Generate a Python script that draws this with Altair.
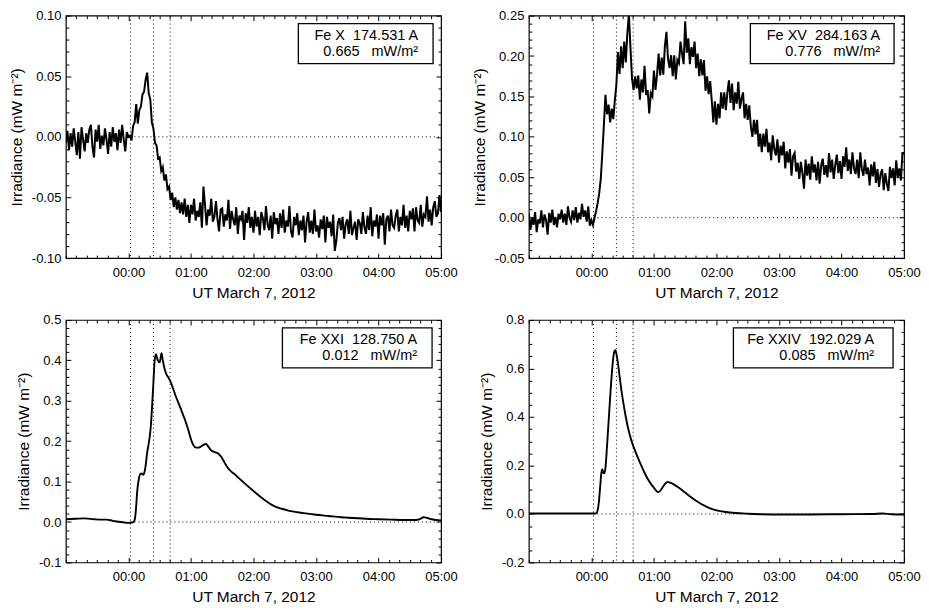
import altair as alt
import numpy as np
import pandas as pd

FONT = "Liberation Sans"
X_TITLE = "UT March 7, 2012"
Y_TITLE = "Irradiance (mW m\u207b\u00b2)"

# time axis: hours relative to 00:00 UT, March 7 2012
x_domain = [-1.0, 5.0]
x_major_hours = [0, 1, 2, 3, 4, 5]
flare_marks_h = [0.033, 0.40, 0.667]      # 00:02, 00:24, 00:40 UT
sample_step_h = 0.025                      # 1.5-minute samples for the noisy lines

# Fe X 174.531 A, irradiance in 1e-3 mW m^-2
fe10_milli = [
    -5, 5, -11, 3, -8, 7, -4, -15, 4, -18, 8, -2, -12, 3, -5, 6, 10, -8, -17, 6,
    -4, 10, -10, 1, -7, 7, -2, -14, 4, -8, 8, -4, 3, -11, 6, -5, 10, -2, -12, 4, 0,
    1, -3, 9, 12, 27, 11, 22, 25, 35, 37, 47, 53, 36, 31, 12, 7, -5, -7, -18, -17,
    -28, -25, -36, -31, -43, -41, -52, -46, -58, -50, -60, -52, -63, -54, -64,
    -51, -66, -56, -71, -56, -64, -51, -69, -61, -66,
    -54, -75, -41, -56, -73, -60, -65, -51, -70, -66,
    -53, -68, -78, -60, -59, -74, -64, -69, -52, -76,
    -61, -68, -73, -58, -80, -65, -68, -61, -85, -63,
    -71, -58, -75, -66, -79, -61, -74, -66, -81, -62,
    -67, -77, -57, -72, -77, -65, -84, -62, -72, -67,
    -80, -63, -75, -60, -79, -69, -74, -57, -78, -83,
    -66, -73, -63, -81, -69, -77, -65, -87, -70, -62,
    -79, -69, -80, -60, -78, -73, -83, -68, -76, -65,
    -87, -66, -75, -70, -82, -64, -94, -86, -71, -67,
    -77, -66, -84, -72, -68, -80, -61, -81, -75, -70,
    -85, -68, -71, -80, -62, -75, -80, -65, -77, -58,
    -82, -69, -74, -64, -84, -65, -73, -63, -89, -68,
    -65, -78, -60, -73, -75, -65, -60, -78, -66, -73,
    -56, -75, -65, -78, -61, -68, -59, -78, -58, -69,
    -71, -56, -74, -64, -66, -49, -70, -60, -73, -58,
    -53, -66, -63, -48, -62,
]

# Fe XV 284.163 A, irradiance in 1e-3 mW m^-2
fe15_milli = [
    5, -15, 0, -9, 7, -18, -2, -7, 9, -12, 4, -3, -21, 6, -6, 10, -9, 1, -12, 5,
    -2, 10, -6, 5, -9, 14, 0, -5, 9, -3, 13, -6, 6, -2, 17, 1, 9, -5, 14, -10, -3,
    -9, 0, 8, 18, 30, 48, 80, 115, 152, 128, 140, 118, 135, 122, 145, 165, 205, 178,
    212, 185, 218, 192, 228, 252, 210, 172, 158, 175, 160,
    176, 146, 171, 155, 188, 152, 158, 129, 154, 150,
    182, 158, 177, 203, 176, 198, 177, 212, 230, 197,
    185, 201, 175, 201, 171, 195, 191, 218, 203, 190,
    243, 204, 222, 190, 211, 199, 218, 185, 203, 175,
    196, 176, 195, 157, 175, 153, 169, 145, 118, 144,
    115, 141, 123, 155, 135, 155, 133, 155, 170, 142,
    166, 133, 155, 141, 168, 135, 147, 155, 123, 141,
    121, 139, 113, 100, 121, 103, 121, 88, 104, 81,
    104, 88, 110, 81, 93, 71, 102, 85, 77, 97,
    68, 89, 77, 94, 61, 82, 68, 85, 52, 76,
    80, 57, 68, 48, 69, 55, 36, 72, 52, 67,
    47, 76, 56, 66, 46, 69, 42, 65, 73, 53,
    65, 50, 80, 56, 72, 48, 65, 78, 55, 70,
    48, 76, 63, 87, 58, 72, 54, 81, 61, 54,
    72, 49, 81, 60, 52, 72, 54, 62, 40, 66,
    51, 69, 43, 60, 38, 54, 60, 34, 55, 42,
    33, 63, 49, 61, 40, 71, 49, 61, 46, 80, 80,
]

# Fe XXI 128.750 A
fe21_t = [-1.0, -0.85, -0.7, -0.55, -0.45, -0.35, -0.25, -0.12, 0.0, 0.08,
          0.10, 0.12, 0.14, 0.165, 0.19, 0.21, 0.235, 0.26, 0.28, 0.30,
          0.32, 0.34, 0.36, 0.38, 0.40, 0.42, 0.44, 0.47, 0.50, 0.53,
          0.55, 0.58, 0.61, 0.65, 0.68, 0.72, 0.76, 0.80, 0.85, 0.90,
          0.95, 1.00, 1.04, 1.08, 1.12, 1.16, 1.20, 1.24, 1.28, 1.32,
          1.36, 1.40, 1.44, 1.48, 1.52, 1.56, 1.60, 1.65, 1.70, 1.75,
          1.80, 1.90, 2.00, 2.10, 2.20, 2.30, 2.40, 2.50, 2.60, 2.80,
          3.00, 3.20, 3.40, 3.60, 3.80, 4.00, 4.20, 4.40, 4.60, 4.66,
          4.72, 4.78, 4.85, 5.00]
fe21_v = [0.007, 0.008, 0.009, 0.007, 0.006, 0.006, 0.003, 0.000, -0.002, 0.000,
          0.005, 0.030, 0.075, 0.105, 0.119, 0.120, 0.117, 0.125, 0.145, 0.172,
          0.190, 0.210, 0.240, 0.290, 0.345, 0.400, 0.415, 0.400, 0.395, 0.418,
          0.400, 0.378, 0.365, 0.355, 0.345, 0.328, 0.310, 0.295, 0.275, 0.255,
          0.232, 0.205, 0.190, 0.184, 0.184, 0.187, 0.191, 0.193, 0.186, 0.178,
          0.174, 0.172, 0.169, 0.162, 0.152, 0.141, 0.132, 0.124, 0.118, 0.111,
          0.104, 0.090, 0.077, 0.064, 0.052, 0.042, 0.035, 0.031, 0.027, 0.022,
          0.018, 0.015, 0.012, 0.010, 0.008, 0.007, 0.006, 0.005, 0.005, 0.007,
          0.012, 0.010, 0.007, 0.004]

# Fe XXIV 192.029 A
fe24_t = [-1.0, -0.5, 0.0, 0.08, 0.10, 0.12, 0.14, 0.16, 0.175, 0.19,
          0.205, 0.225, 0.25, 0.27, 0.29, 0.31, 0.33, 0.35, 0.37, 0.385,
          0.40, 0.42, 0.45, 0.48, 0.51, 0.55, 0.60, 0.65, 0.70, 0.75,
          0.80, 0.85, 0.90, 0.95, 1.00, 1.04, 1.07, 1.10, 1.14, 1.18,
          1.22, 1.27, 1.33, 1.40, 1.50, 1.60, 1.70, 1.80, 1.90, 2.00,
          2.15, 2.30, 2.50, 2.70, 3.00, 3.50, 4.00, 4.50, 4.65, 4.80, 5.00]
fe24_v = [0.002, 0.002, 0.002, 0.003, 0.015, 0.050, 0.110, 0.170, 0.185, 0.170,
          0.168, 0.190, 0.280, 0.360, 0.440, 0.520, 0.590, 0.645, 0.672, 0.675,
          0.660, 0.630, 0.570, 0.510, 0.460, 0.400, 0.340, 0.295, 0.260, 0.228,
          0.198, 0.170, 0.145, 0.125, 0.108, 0.095, 0.090, 0.095, 0.110, 0.125,
          0.132, 0.128, 0.120, 0.108, 0.088, 0.068, 0.050, 0.035, 0.023, 0.015,
          0.008, 0.004, 0.001, -0.001, -0.002, -0.002, -0.001, 0.000, 0.002, -0.001,
          -0.002]

legend_line1 = ["Fe X\u00a0\u00a0174.531 A", "Fe XV\u00a0\u00a0284.163 A",
                "Fe XXI\u00a0\u00a0128.750 A", "Fe XXIV\u00a0\u00a0192.029 A"]
legend_line2 = ["0.665\u00a0\u00a0\u00a0mW/m\u00b2", "0.776\u00a0\u00a0\u00a0mW/m\u00b2",
                "0.012\u00a0\u00a0\u00a0mW/m\u00b2", "0.085\u00a0\u00a0\u00a0mW/m\u00b2"]

PW, PH = 376, 243


def sampled(milli):
    t = x_domain[0] + sample_step_h * np.arange(len(milli))
    return pd.DataFrame({"t": t, "v": np.array(milli) / 1000.0})


def minor_ticks(lo, hi, step, majors):
    n = int(round((hi - lo) / step))
    vals = [round(lo + k * step, 6) for k in range(n + 1)]
    return [v for v in vals if all(abs(v - m) > 1e-9 for m in majors)]


x_minor = minor_ticks(x_domain[0], x_domain[1], 1 / 6, x_major_hours)


def tick_axis(orient, values, size):
    return alt.Axis(orient=orient, values=values, tickSize=size, offset=-size,
                    labels=False, title=None, domain=False, grid=False,
                    ticks=True, tickColor="black", tickWidth=1, zindex=1)


def panel(df, ydom, ymajor, ystep, ydec, box, l1, l2, smooth):
    xs = alt.Scale(domain=x_domain, nice=False, zero=False)
    ys = alt.Scale(domain=ydom, nice=False, zero=False)
    yminor = minor_ticks(ydom[0], ydom[1], ystep, ymajor)
    yexpr = f"(datum.value < 0 ? '-' : '') + format(abs(datum.value), '.{ydec}f')"

    ev = alt.Chart(pd.DataFrame({"t": flare_marks_h})).mark_rule(
        color="black", strokeDash=[1, 3], strokeWidth=1
    ).encode(x=alt.X("t:Q", scale=xs, axis=tick_axis("bottom", x_major_hours, 5)))

    hz = alt.Chart(pd.DataFrame({"t0": [flare_marks_h[0]], "t1": [x_domain[1]], "v": [0.0]})).mark_rule(
        color="black", strokeDash=[1, 3], strokeWidth=1
    ).encode(
        x=alt.X("t0:Q", scale=xs, axis=tick_axis("bottom", x_minor, 3)),
        x2="t1:Q",
        y=alt.Y("v:Q", scale=ys, axis=tick_axis("left", ymajor, 5)),
    )

    ln = alt.Chart(df).mark_line(
        color="black", strokeWidth=1.9 if smooth else 2.0,
        interpolate="monotone" if smooth else "linear", clip=True
    ).encode(
        x=alt.X("t:Q", scale=xs, axis=alt.Axis(
            orient="bottom", values=x_major_hours, labelExpr="'0' + datum.value + ':00'",
            title=X_TITLE, tickSize=0, ticks=False, domain=False, grid=False,
            labelFlush=False, labelPadding=8, titlePadding=6)),
        y=alt.Y("v:Q", scale=ys, axis=alt.Axis(
            orient="left", values=ymajor, labelExpr=yexpr, title=Y_TITLE,
            tickSize=0, ticks=False, domain=False, grid=False,
            labelPadding=5, titlePadding=7)),
    )

    corners = pd.DataFrame({"t": x_domain, "v": ydom})
    h1 = alt.Chart(corners).mark_point(opacity=0, size=1).encode(
        x=alt.X("t:Q", scale=xs, axis=tick_axis("top", x_major_hours, 5)),
        y=alt.Y("v:Q", scale=ys, axis=tick_axis("right", ymajor, 5)),
    )
    h2 = alt.Chart(corners).mark_point(opacity=0, size=1).encode(
        x=alt.X("t:Q", scale=xs, axis=tick_axis("top", x_minor, 3)),
        y=alt.Y("v:Q", scale=ys, axis=tick_axis("right", yminor, 3)),
    )
    h3 = alt.Chart(corners).mark_point(opacity=0, size=1).encode(
        x=alt.X("t:Q", scale=xs, axis=None),
        y=alt.Y("v:Q", scale=ys, axis=tick_axis("left", yminor, 3)),
    )

    bx = alt.Chart(pd.DataFrame({"k": [0]})).mark_rect(
        filled=False, color="black", stroke="black", strokeWidth=1.3
    ).encode(x=alt.value(box[0]), x2=alt.value(box[1]), y=alt.value(8), y2=alt.value(48))

    t1 = alt.Chart(pd.DataFrame({"s": [l1]})).mark_text(
        align="right", baseline="alphabetic", fontSize=14.5, font=FONT, color="black"
    ).encode(x=alt.value(box[2]), y=alt.value(24.5), text="s:N")
    t2 = alt.Chart(pd.DataFrame({"s": [l2]})).mark_text(
        align="right", baseline="alphabetic", fontSize=14.5, font=FONT, color="black"
    ).encode(x=alt.value(box[2]), y=alt.value(40.5), text="s:N")

    return alt.layer(ev, hz, ln, bx, t1, t2, h1, h2, h3).resolve_axis(
        x="independent", y="independent"
    ).properties(width=PW, height=PH)


p1 = panel(sampled(fe10_milli), [-0.10, 0.10], [-0.10, -0.05, 0.0, 0.05, 0.10], 0.01, 2,
           (233, 368, 353), legend_line1[0], legend_line2[0], False)
p2 = panel(sampled(fe15_milli), [-0.05, 0.25], [-0.05, 0.0, 0.05, 0.10, 0.15, 0.20, 0.25], 0.01, 2,
           (222, 366, 352), legend_line1[1], legend_line2[1], False)
p3 = panel(pd.DataFrame({"t": fe21_t, "v": fe21_v}), [-0.1, 0.5], [-0.1, 0.0, 0.1, 0.2, 0.3, 0.4, 0.5], 0.02, 1,
           (217, 367, 352), legend_line1[2], legend_line2[2], True)
p4 = panel(pd.DataFrame({"t": fe24_t, "v": fe24_v}), [-0.2, 0.8], [-0.2, 0.0, 0.2, 0.4, 0.6, 0.8], 0.05, 1,
           (205, 365, 346), legend_line1[3], legend_line2[3], True)

chart = alt.concat(p1, p2, p3, p4, columns=2, spacing={"row": 11, "column": 13}).properties(
    padding={"left": 0, "top": 0, "right": 0, "bottom": 0}
).configure(
    background="white", font=FONT
).configure_view(
    stroke="black", strokeWidth=1.2
).configure_axis(
    labelFont=FONT, titleFont=FONT, labelFontSize=13, titleFontSize=15.5,
    titleFontWeight="normal", labelColor="black", titleColor="black"
)

chart.save("out.html", embed_options={"renderer": "svg", "actions": False})
